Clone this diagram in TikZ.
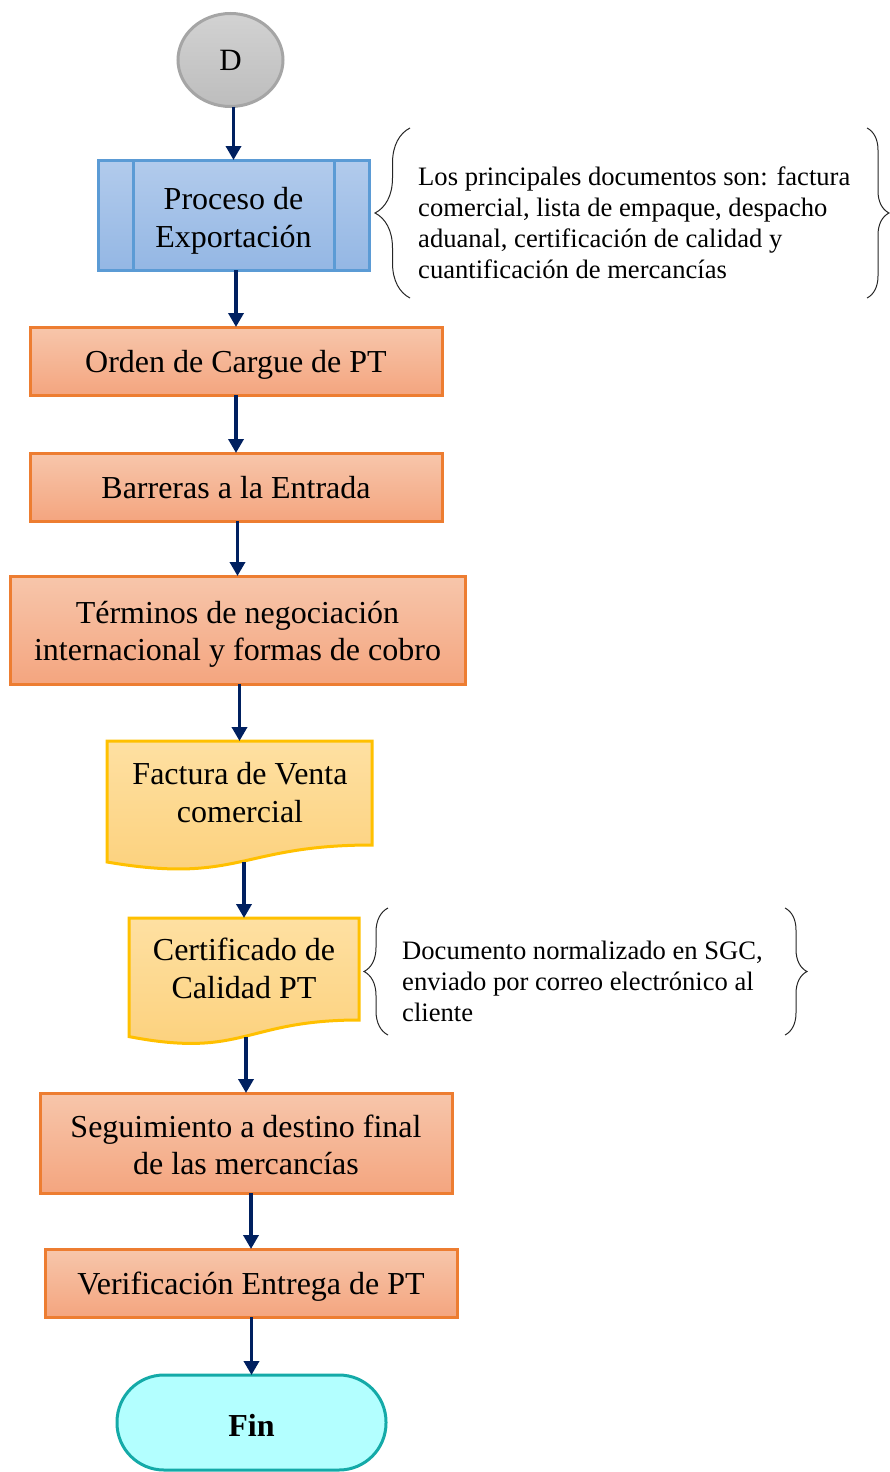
\documentclass[tikz,border=0pt]{standalone}
\usepackage{fontspec}
\setmainfont{Liberation Serif}
\usetikzlibrary{arrows.meta,shapes.geometric,decorations.pathreplacing}
\definecolor{arrowc}{HTML}{002060}
\definecolor{orangeb}{HTML}{ED7D31}
\definecolor{orangetop}{HTML}{F7C6AB}
\definecolor{orangebot}{HTML}{F4A57F}
\definecolor{blueb}{HTML}{5B9BD5}
\definecolor{bluetop}{HTML}{B2CBEC}
\definecolor{bluebot}{HTML}{94B7E4}
\definecolor{docb}{HTML}{FFC000}
\definecolor{doctop}{HTML}{FEE0A2}
\definecolor{docbot}{HTML}{FCD07A}
\definecolor{grayb}{HTML}{A5A5A5}
\definecolor{graytop}{HTML}{D2D2D2}
\definecolor{graybot}{HTML}{BDBDBD}
\definecolor{finb}{HTML}{14AAA8}
\definecolor{finfill}{HTML}{B3FFFF}
\begin{document}
\begin{tikzpicture}[x=1pt,y=-1pt,
  mainfont/.style={font=\fontsize{32}{37.5}\selectfont},
  notefont/.style={font=\fontsize{26.6}{31}\selectfont},
  arr/.style={draw=arrowc, line width=3.6pt, -{Triangle[width=15pt,length=14pt]}},
  obox/.style={draw=orangeb, line width=3pt, top color=orangetop, bottom color=orangebot, inner sep=0pt, outer sep=0pt},
  pbox/.style={draw=blueb, line width=3pt, top color=bluetop, bottom color=bluebot, inner sep=0pt, outer sep=0pt},
  pline/.style={draw=blueb, line width=3pt},
  docshape/.style={draw=docb, line width=3pt, top color=doctop, bottom color=docbot},
  docarea/.style={inner sep=0pt, outer sep=0pt},
  txt/.style={mainfont, align=center, inner sep=0pt},
  circ/.style={ellipse, font=\fontsize{31}{36}\selectfont, draw=grayb, line width=3pt, top color=graytop, bottom color=graybot, inner sep=0pt, outer sep=0pt},
  term/.style={draw=finb, line width=3pt, fill=finfill, rounded corners=47pt, inner sep=0pt, outer sep=0pt},
  note/.style={notefont, align=left, inner sep=0pt},
  bracel/.style={draw=black!85, line width=1pt, decorate},
]
\useasboundingbox (0,0) rectangle (890,1472);

% start connector
\node[circ, minimum width=105, minimum height=93] (d) at (230.5,60) {D};

% predefined process
\node[pbox, minimum width=271, minimum height=110] (pro) at (233.5,215) {};
\draw[pline] ([xshift=35pt]pro.north west) -- ([xshift=35pt]pro.south west);
\draw[pline] ([xshift=-35pt]pro.north east) -- ([xshift=-35pt]pro.south east);
\node[txt, yshift=-6pt] (prot) at (pro) {Proceso de\\Exportación};

% process boxes
\node[obox, minimum width=412, minimum height=68] (ord) at (236,361) {};
\node[txt, yshift=-4pt] (ordt) at (ord) {Orden de Cargue de PT};
\node[obox, minimum width=412, minimum height=68] (bar) at (236,487) {};
\node[txt, yshift=-1pt] (bart) at (bar) {Barreras a la Entrada};
\node[obox, minimum width=455, minimum height=108] (ter) at (237.5,630) {};
\node[txt, yshift=-4.5pt] (tert) at (ter) {Términos de negociación\\internacional y formas de cobro};

% documents
\draw[docshape] (107,741) -- (372,741) -- (372,845) .. controls (239.5,845) and (239.5,884.6) .. (107,862) -- cycle;
\node[docarea, minimum width=265, minimum height=121] (fac) at (239.5,801.5) {};
\node[txt] (fact) at (240,792.5) {Factura de Venta\\comercial};

\draw[docshape] (129,918) -- (359,918) -- (359,1020) .. controls (244,1020) and (244,1058.7) .. (129,1036.6) -- cycle;
\node[docarea, minimum width=230, minimum height=118.6] (cer) at (244,977.3) {};
\node[txt] (cert) at (244,968.5) {Certificado de\\Calidad PT};

\node[obox, minimum width=412, minimum height=100] (seg) at (246,1143) {};
\node[txt, yshift=-2pt] (segt) at (seg) {Seguimiento a destino final\\de las mercancías};
\node[obox, minimum width=412, minimum height=68] (ver) at (251,1283) {};
\node[txt, yshift=-4pt] (vert) at (ver) {Verificación Entrega de PT};

\node[term, minimum width=269, minimum height=95] (fin) at (251.5,1422.5) {};
\node[txt, font=\fontsize{32}{37.5}\selectfont\bfseries, yshift=-3pt] (fint) at (fin) {Fin};

% arrows
\draw[arr] (d.south -| pro.north) -- (pro.north);
\draw[arr] (pro.south -| ord.north) -- (ord.north);
\draw[arr] (ord.south) -- (bar.north);
\draw[arr] (bar.south -| ter.north) -- (ter.north);
\draw[arr] (ter.south -| fac.north) -- (fac.north);
\draw[arr] (fac.south -| cer.north) -- (cer.north);
\draw[arr] (cer.south -| seg.north) -- (seg.north);
\draw[arr] (seg.south -| ver.north) -- (ver.north);
\draw[arr] (ver.south -| fin.north) -- (fin.north);

% notes with braces
\node[note, anchor=west] (n1) at (418,223) {Los principales documentos son: factura\\comercial, lista de empaque, despacho\\aduanal, certificación de calidad y\\cuantificación de mercancías};
\draw[bracel, decoration={brace, amplitude=35pt}] (410,298) -- (410,128);
\draw[bracel, decoration={brace, amplitude=22pt}] (867,128) -- (867,298);

\node[note, anchor=west] (n2) at (402,981) {Documento normalizado en SGC,\\enviado por correo electrónico al\\cliente};
\draw[bracel, decoration={brace, amplitude=24pt}] (388,1035) -- (388,908);
\draw[bracel, decoration={brace, amplitude=22pt}] (785,908) -- (785,1035);
\end{tikzpicture}
\end{document}
